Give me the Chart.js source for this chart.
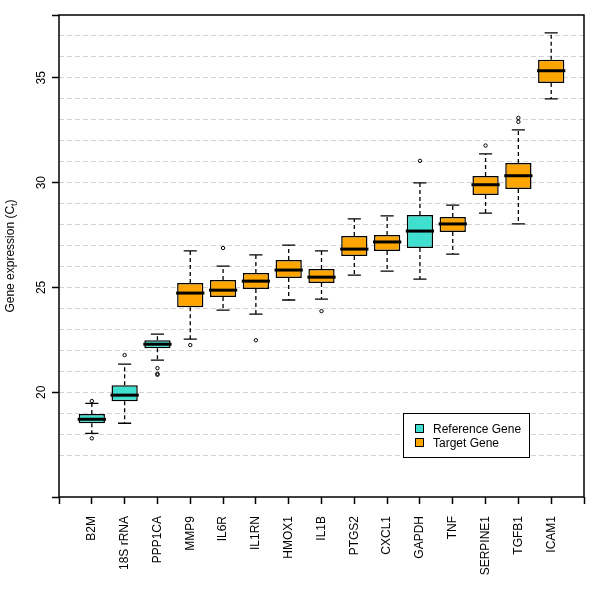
<!DOCTYPE html>
<html><head><meta charset="utf-8">
<script src="https://cdn.jsdelivr.net/npm/chart.js@4"></script>
<style>html,body{margin:0;padding:0;background:#fff}#wrap{width:600px;height:600px}</style>
</head><body><div id="wrap"><canvas id="c" width="600" height="600"></canvas></div>
<script>
const genes = ['B2M','18S rRNA','PPP1CA','MMP9','IL6R','IL1RN','HMOX1','IL1B','PTGS2','CXCL1','GAPDH','TNF','SERPINE1','TGFB1','ICAM1'];
const geneType = ['ref','ref','ref','tgt','tgt','tgt','tgt','tgt','tgt','tgt','ref','tgt','tgt','tgt','tgt'];
const whiskerLow  = [18.04,18.52,21.53,22.53,23.92,23.73,24.40,24.44,25.59,25.78,25.40,26.59,28.55,28.03,34.00];
const q1          = [18.52,19.57,22.10,24.06,24.54,24.92,25.45,25.21,26.50,26.74,26.88,27.64,29.41,29.70,34.76];
const median      = [18.71,19.86,22.29,24.73,24.87,25.30,25.83,25.49,26.83,27.17,27.69,28.03,29.90,30.33,35.34];
const q3          = [18.96,20.33,22.48,25.21,25.35,25.69,26.31,25.88,27.45,27.50,28.46,28.36,30.32,30.94,35.86];
const whiskerHigh = [19.47,21.34,22.77,26.74,26.02,26.55,27.02,26.74,28.27,28.41,29.99,28.93,31.37,32.52,37.15];
const outliers = [[19.58,17.80],[21.77],[21.15,20.88,20.83],[22.25],[26.88],[22.48],[],[23.87],[],[],[31.04],[],[31.77],[33.09,32.90],[]];
const yTickLabels = [20,25,30,35];
const yEndTicks = [15,38];
const gridValues = [17,18,19,20,21,22,23,24,25,26,27,28,29,30,31,32,33,34,35,36,37];
const yMin = 15, yMax = 38;
const legendLabels = ['Reference Gene','Target Gene'];
const typeColors = {ref:'#40E0D0', tgt:'#FFA500'};
const legendTypes = ['ref','tgt'];

const FONT = '"Liberation Sans", Arial, sans-serif';
const axisLabels = [''].concat(genes, [' ']);
const outlierPoints = [];
outliers.forEach((arr,i)=>arr.forEach(v=>outlierPoints.push({x:genes[i], y:v})));

const boxPlugin = {
  id:'boxparts',
  afterDatasetsDraw(chart){
    const ctx = chart.ctx, ys = chart.scales.y;
    const bars = chart.getDatasetMeta(0).data;
    ctx.save();
    bars.forEach((bar,i)=>{
      const x = bar.x, w = bar.width;
      const pLo = ys.getPixelForValue(whiskerLow[i]), pHi = ys.getPixelForValue(whiskerHigh[i]);
      const pQ1 = ys.getPixelForValue(q1[i]), pQ3 = ys.getPixelForValue(q3[i]);
      const pMed = ys.getPixelForValue(median[i]);
      ctx.strokeStyle = '#000';
      ctx.lineWidth = 1.3;
      ctx.setLineDash([4,3]);
      ctx.beginPath();
      ctx.moveTo(x, pQ3); ctx.lineTo(x, pHi);
      ctx.moveTo(x, pQ1); ctx.lineTo(x, pLo);
      ctx.stroke();
      ctx.setLineDash([]);
      ctx.beginPath();
      ctx.moveTo(x - w/4, pHi); ctx.lineTo(x + w/4, pHi);
      ctx.moveTo(x - w/4, pLo); ctx.lineTo(x + w/4, pLo);
      ctx.stroke();
      ctx.lineWidth = 3;
      ctx.beginPath();
      ctx.moveTo(x - w/2 - 1, pMed); ctx.lineTo(x + w/2 + 1, pMed);
      ctx.stroke();
    });
    ctx.restore();
  },
  afterDraw(chart){
    const ctx = chart.ctx, a = chart.chartArea, ys = chart.scales.y;
    ctx.save();
    ctx.strokeStyle = '#000'; ctx.lineWidth = 1.5; ctx.setLineDash([]);
    ctx.strokeRect(a.left, a.top, a.right - a.left, a.bottom - a.top);
    ctx.fillStyle = '#000';
    ctx.font = '12px ' + FONT;
    ctx.textAlign = 'center';
    ctx.textBaseline = 'alphabetic';
    yTickLabels.forEach(v=>{
      const py = ys.getPixelForValue(v);
      ctx.save(); ctx.translate(a.left - 14, py); ctx.rotate(-Math.PI/2);
      ctx.fillText(String(v), 0, 0); ctx.restore();
    });
    const main = 'Gene expression (C', sub = 't', end = ')';
    ctx.font = '12px ' + FONT; const w1 = ctx.measureText(main).width, w3 = ctx.measureText(end).width;
    ctx.font = '9px ' + FONT; const w2 = ctx.measureText(sub).width;
    const total = w1 + w2 + w3;
    const cy = (a.top + a.bottom)/2;
    ctx.save(); ctx.translate(13.5, cy); ctx.rotate(-Math.PI/2);
    ctx.textAlign = 'left';
    ctx.font = '12px ' + FONT; ctx.fillText(main, -total/2, 0);
    ctx.font = '9px ' + FONT; ctx.fillText(sub, -total/2 + w1, 3);
    ctx.font = '12px ' + FONT; ctx.fillText(end, -total/2 + w1 + w2, 0);
    ctx.restore();
    const lx = 403.5, ly = 413.5, lw = 126, lh = 44;
    ctx.fillStyle = '#fff'; ctx.fillRect(lx, ly, lw, lh);
    ctx.lineWidth = 1; ctx.strokeStyle = '#000'; ctx.strokeRect(lx, ly, lw, lh);
    ctx.font = '12px ' + FONT; ctx.textAlign = 'left'; ctx.textBaseline = 'middle';
    legendLabels.forEach((lab,i)=>{
      const yy = 429 + i*14;
      ctx.fillStyle = typeColors[legendTypes[i]];
      ctx.fillRect(415.5, yy - 4.5, 8, 8);
      ctx.strokeRect(415.5, yy - 4.5, 8, 8);
      ctx.fillStyle = '#000';
      ctx.fillText(lab, 433, yy + 0.5);
    });
    ctx.restore();
  }
};

new Chart(document.getElementById('c'), {
  type:'bar',
  data:{
    labels: axisLabels,
    datasets:[
      {type:'bar', label:'IQR', data: genes.map((g,i)=>({x:g, y:[q1[i], q3[i]]})),
       backgroundColor: geneType.map(t=>typeColors[t]), borderColor:'#000', borderWidth:1.5,
       borderSkipped:false, barPercentage:0.8, categoryPercentage:1, grouped:false, order:2},
      {type:'scatter', label:'Outliers', data: outlierPoints, pointStyle:'circle', pointRadius:1.7,
       borderColor:'#000', backgroundColor:'rgba(0,0,0,0)', borderWidth:1, order:1}
    ]
  },
  options:{
    responsive:false, animation:false, devicePixelRatio:1,
    layout:{padding:{top:15, right:16, left:0, bottom:0}},
    plugins:{legend:{display:false}, tooltip:{enabled:false}},
    scales:{
      x:{type:'category', offset:false,
         grid:{offset:false, drawOnChartArea:false, drawTicks:true, tickLength:7, tickColor:'#000', tickWidth:1.5, color:'#000'},
         border:{display:false},
         ticks:{autoSkip:false, minRotation:90, maxRotation:90, padding:12, color:'#000', font:{family:FONT, size:12}},
         afterFit(s){ s.height = 103; s.paddingLeft = 0; s.paddingRight = 0; }},
      y:{type:'linear', min:yMin, max:yMax,
         afterBuildTicks(s){ const t=[]; for(let v=yMin; v<=yMax; v++) t.push({value:v}); s.ticks=t; },
         grid:{color:c=> gridValues.includes(c.tick && c.tick.value) ? '#D3D3D3' : 'rgba(0,0,0,0)',
               lineWidth:1, tickLength:7, tickWidth:1.5, tickBorderDash:[],
               tickColor:c=> (yTickLabels.includes(c.tick && c.tick.value) || yEndTicks.includes(c.tick && c.tick.value)) ? '#000' : 'rgba(0,0,0,0)'},
         border:{display:false, dash:[5,3]},
         ticks:{display:false},
         afterFit(s){ s.width = 59; s.paddingTop = 0; s.paddingBottom = 0; }}
    }
  },
  plugins:[boxPlugin]
});
</script>
</body></html>
